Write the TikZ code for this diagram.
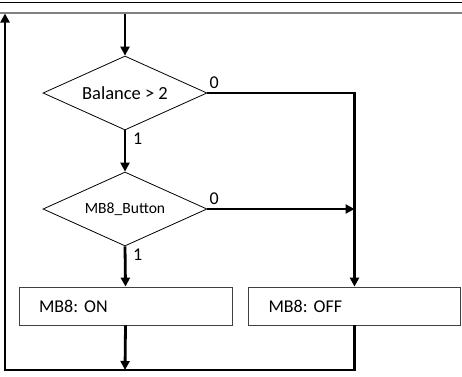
\documentclass[tikz,border=0pt]{standalone}
\usepackage{fontspec}
\setmainfont{Carlito}
\frenchspacing
\usetikzlibrary{shapes.geometric,arrows.meta}
\begin{document}
\begin{tikzpicture}[x=1pt,y=-1pt,
  dec/.style={diamond,draw=black,line width=0.8pt,inner sep=0pt,minimum width=164pt,minimum height=74pt,aspect=2.2},
  actbox/.style={rectangle,draw=black!75,line width=0.8pt,minimum width=213pt,minimum height=38pt,text width=173pt,align=left,inner xsep=20pt,font=\fontsize{18}{20}\selectfont},
  flow/.style={line width=2.8pt,-{Triangle[length=9pt,width=9pt]}},
  lab/.style={inner sep=0pt,font=\fontsize{18}{20}\selectfont}]
\useasboundingbox (0,0) rectangle (462,376);
% header lines
\draw[line width=1pt] (0,2) -- (462,2);
\draw[line width=2pt,black!50] (0,12.5) -- (462,12.5);
% nodes
\node[dec,font=\fontsize{18.5}{20}\selectfont] (d1) at (125,93) {Balance > 2};
\node[dec,font=\fontsize{15.6}{18}\selectfont] (d2) at (125,209) {MB8\_Button};
\node[actbox] (on) at (125.5,306) {MB8:\ ON};
\node[actbox,minimum width=212pt,text width=172pt] (off) at (354.5,306) {MB8:\ OFF};
\coordinate (top) at (125,13.5);
\coordinate (bot) at (125,370);
\coordinate (bl) at (5,370);
\coordinate (tl) at (5,13.5);
% connectors
\draw[flow] (top) -- (d1.north);
\draw[flow] (d1.east) -- (d1.east -| off.north) -- (off.north);
\draw[flow] (d1.south) -- (d2.north);
\draw[flow] (d2.east) -- (d2.east -| off.north);
\draw[flow] (d2.south) -- (on.north);
\draw[flow] (on.south) -- (bot);
\draw[flow] (off.south) -- (off.south |- bl) -- (bl) -- (tl);
% labels
\node[lab,anchor=south west] at ([xshift=2pt,yshift=4pt]d1.east) {0};
\node[lab,anchor=south west] at ([xshift=2pt,yshift=4pt]d2.east) {0};
\node[lab,anchor=north west] at ([xshift=8pt,yshift=-2pt]d1.south) {1};
\node[lab,anchor=north west] at ([xshift=8pt,yshift=-2pt]d2.south) {1};
\end{tikzpicture}
\end{document}
